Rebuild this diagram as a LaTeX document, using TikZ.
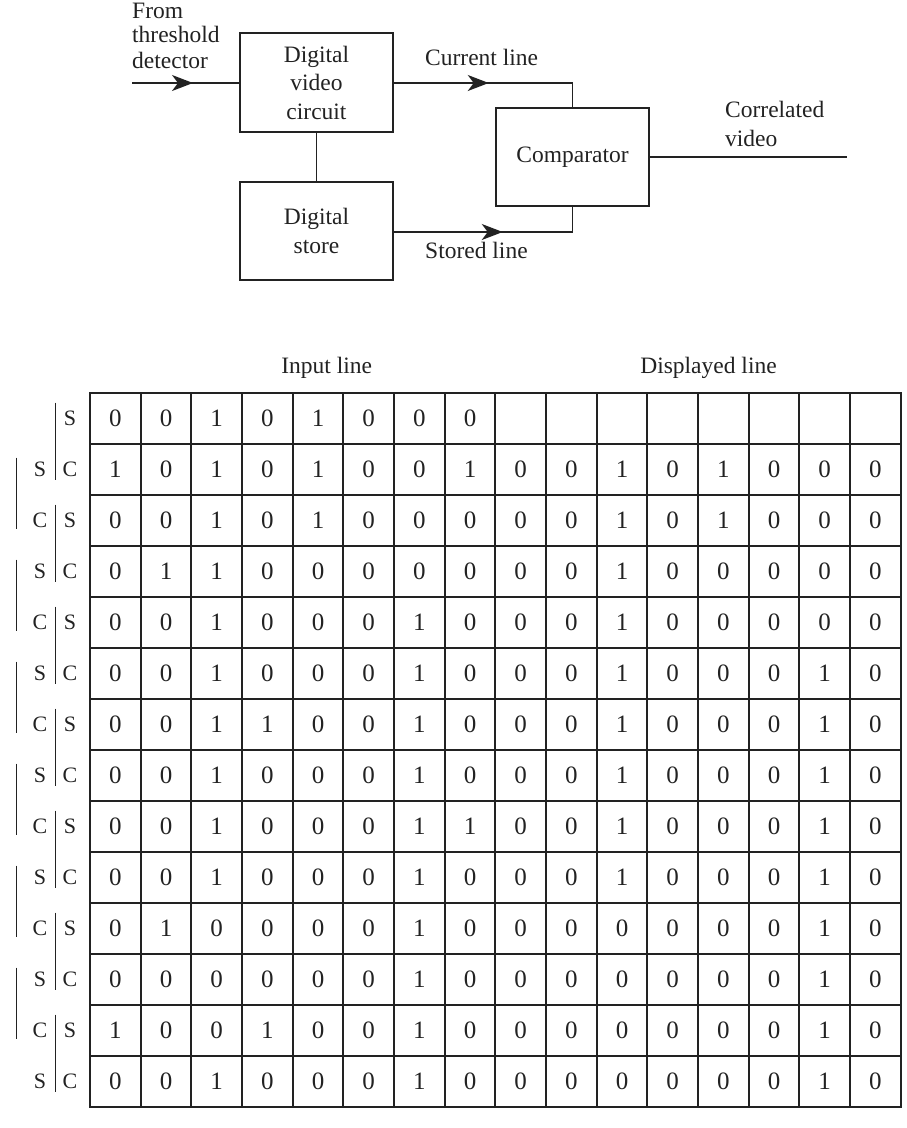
\documentclass[tikz,border=0pt]{standalone}
\usepackage{fontspec}
\setmainfont{Liberation Serif}
\usetikzlibrary{arrows.meta,decorations.markings}
\definecolor{ink}{HTML}{222222}
\begin{document}
\begin{tikzpicture}[x=1pt,y=-1pt,
  every node/.style={text=ink,inner sep=0pt},
  lbl/.style={font=\fontsize{23.5}{28.5}\selectfont},
  blk/.style={draw=ink,line width=1.5pt,minimum width=153pt,minimum height=98pt,align=center,font=\fontsize{23.5}{28.5}\selectfont},
  wire/.style={draw=ink,line width=1.5pt},
  tipmark/.style={postaction={decorate},decoration={markings,mark=at position #1 with {\arrow{Stealth[length=21pt,width=16pt,inset=6pt]}}}},
  cellnum/.style={font=\fontsize{25}{29}\selectfont},
  sc/.style={font=\fontsize{22}{26}\selectfont},
  gridline/.style={draw=ink,line width=2pt},
  brk/.style={draw=ink,line width=1.4pt}
]
\useasboundingbox (0,0) rectangle (906,1128);

% ---------- block diagram ----------
\node[blk,minimum height=99pt] (dvc) at (316.5,82.5) {Digital\\video\\circuit};
\node[blk] (store) at (316.5,231) {Digital\\store};
\node[blk] (comp) at (572.5,157) {Comparator};

\node[lbl,anchor=base west] (t1) at (132,18) {From};
\node[lbl,anchor=base west] (t2) at (132,42) {threshold};
\node[lbl,anchor=base west] (t3) at (132,68) {detector};
\coordinate (in) at (132,83);
\coordinate (out) at (847,157);

\path[wire,tipmark=61pt] (in) -- (dvc.west |- in);
\path[wire] (dvc.south) -- (store.north);
\path[wire,tipmark=95pt] (dvc.east |- in) -- (comp.north |- in) -- (comp.north);
\path[wire,tipmark=109pt] (store.east |- 0,232) -- (comp.south |- 0,232) -- (comp.south);
\path[wire] (comp.east) -- (out);

\node[lbl,anchor=base west] (cur) at (425,65.5) {Current line};
\node[lbl,anchor=base west] (sto) at (425,258) {Stored line};
\node[lbl,anchor=base west] (cor1) at (725,117) {Correlated};
\node[lbl,anchor=base west] (cor2) at (725,146) {video};

% ---------- table ----------
\def\xo{90}\def\yo{392.7}\def\cw{50.67}\def\rh{51}
\node[lbl,anchor=base] (inl) at (326.7,373.5) {Input line};
\node[lbl,anchor=base] (dsl) at (708.5,373.5) {Displayed line};

\foreach \i in {0,...,16}
  \path[gridline] (\xo+\i*\cw,\yo) -- (\xo+\i*\cw,\yo+14*\rh);
\foreach \j in {0,...,14}
  \path[gridline] (\xo-1,\yo+\j*\rh) -- (\xo+16*\cw+1,\yo+\j*\rh);

\foreach \v [count=\c] in {0,0,1,0,1,0,0,0}
  \node[cellnum] (c-1-\c) at (\xo+\c*\cw-0.5*\cw,\yo+0.5*\rh) {\v};

\foreach \r/\vals in {
  2/{1,0,1,0,1,0,0,1,0,0,1,0,1,0,0,0},
  3/{0,0,1,0,1,0,0,0,0,0,1,0,1,0,0,0},
  4/{0,1,1,0,0,0,0,0,0,0,1,0,0,0,0,0},
  5/{0,0,1,0,0,0,1,0,0,0,1,0,0,0,0,0},
  6/{0,0,1,0,0,0,1,0,0,0,1,0,0,0,1,0},
  7/{0,0,1,1,0,0,1,0,0,0,1,0,0,0,1,0},
  8/{0,0,1,0,0,0,1,0,0,0,1,0,0,0,1,0},
  9/{0,0,1,0,0,0,1,1,0,0,1,0,0,0,1,0},
  10/{0,0,1,0,0,0,1,0,0,0,1,0,0,0,1,0},
  11/{0,1,0,0,0,0,1,0,0,0,0,0,0,0,1,0},
  12/{0,0,0,0,0,0,1,0,0,0,0,0,0,0,1,0},
  13/{1,0,0,1,0,0,1,0,0,0,0,0,0,0,1,0},
  14/{0,0,1,0,0,0,1,0,0,0,0,0,0,0,1,0}}
{
  \foreach \v [count=\c] in \vals
    \node[cellnum] (c-\r-\c) at (\xo+\c*\cw-0.5*\cw,\yo+\r*\rh-0.5*\rh) {\v};
}

% ---------- S / C labels ----------
\foreach \r in {1,...,14}{
  \pgfmathsetmacro{\yc}{\yo+\r*\rh-0.5*\rh}
  \ifodd\r
    \node[sc] (rl-\r) at (70,\yc) {S};
  \else
    \node[sc] (rl-\r) at (70,\yc) {C};
  \fi
}
\foreach \r in {2,...,14}{
  \pgfmathsetmacro{\yc}{\yo+\r*\rh-0.5*\rh}
  \ifodd\r
    \node[sc] (ll-\r) at (40,\yc) {C};
  \else
    \node[sc] (ll-\r) at (40,\yc) {S};
  \fi
}
\foreach \k in {0,...,6}
  \path[brk] (55.7,\yo+2*\k*\rh+10) -- (55.7,\yo+2*\k*\rh+2*\rh-15);
\foreach \k in {1,...,6}
  \path[brk] (16.7,\yo+2*\k*\rh-\rh+14) -- (16.7,\yo+2*\k*\rh+\rh-17);
\end{tikzpicture}
\end{document}
